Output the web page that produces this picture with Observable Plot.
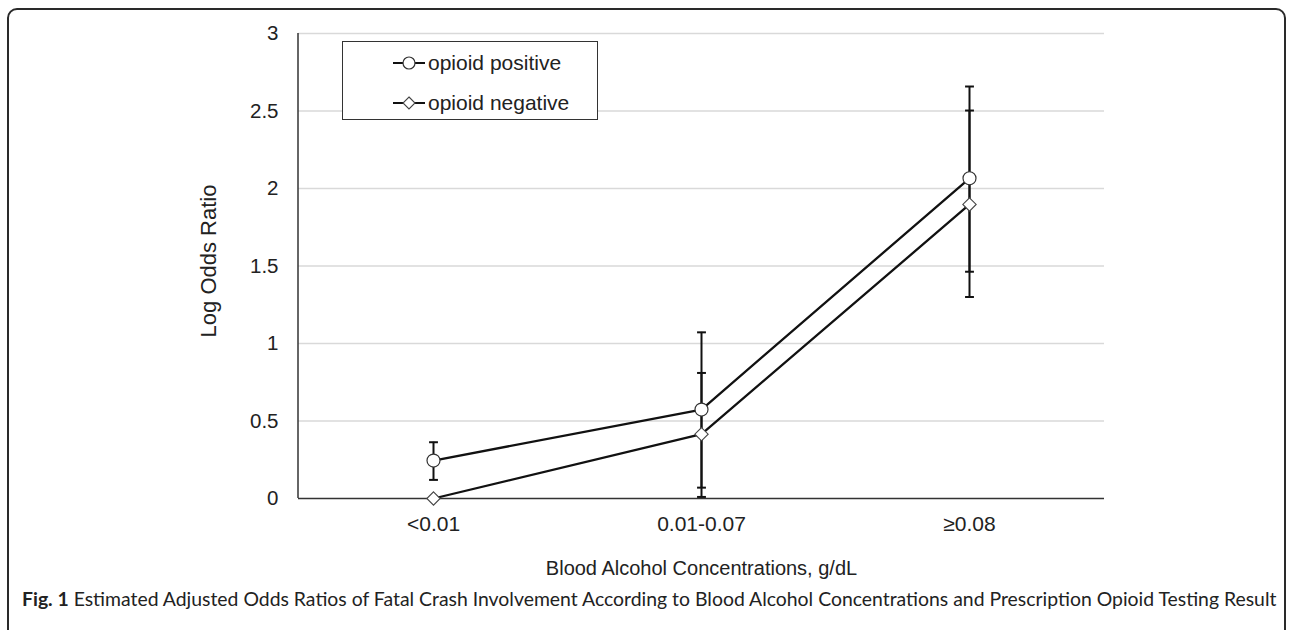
<!DOCTYPE html>
<html>
<head>
<meta charset="utf-8">
<script src="https://cdn.jsdelivr.net/npm/d3@7"></script>
<script src="https://cdn.jsdelivr.net/npm/@observablehq/plot@0.6"></script>
<style>
  html, body { margin: 0; padding: 0; background: #fff; width: 1290px; height: 630px; overflow: hidden; }
  #frame { position: absolute; left: 7px; top: 8px; width: 1279px; height: 640px; border: 2px solid #2a2a2a; border-radius: 10px; box-sizing: border-box; }
  #chart { position: absolute; left: 0; top: 0; }
  #legend { position: absolute; left: 342px; top: 41px; width: 256px; height: 79px; border: 1.5px solid #333; box-sizing: border-box; background: #fff; font-family: "Liberation Sans", Arial, sans-serif; font-size: 21px; color: #222; }
  #legend .row { position: absolute; left: 49px; display: flex; align-items: center; height: 24px; }
  #legend svg { margin-right: 1px; }
  #caption { position: absolute; left: 22px; top: 587px; font-family: Lato, "Open Sans", sans-serif; font-size: 19.4px; color: #222; white-space: nowrap; }
  #caption b { font-weight: 700; }
</style>
</head>
<body>
<div id="chart"></div>
<div id="legend"></div>
<div id="caption"></div>
<div id="frame"></div>
<script>
const categories = ["<0.01", "0.01-0.07", "≥0.08"];
const seriesNames = ["opioid positive", "opioid negative"];
const positive = [0.245, 0.574, 2.066];
const positiveLow = [0.12, 0.07, 1.463];
const positiveHigh = [0.363, 1.072, 2.658];
const negative = [0, 0.415, 1.897];
const negativeLow = [null, 0.01, 1.30];
const negativeHigh = [null, 0.81, 2.503];
const yTicks = [0, 0.5, 1, 1.5, 2, 2.5, 3];
const xTitle = "Blood Alcohol Concentrations, g/dL";
const yTitle = "Log Odds Ratio";
const captionBold = "Fig. 1";
const captionText = "Estimated Adjusted Odds Ratios of Fatal Crash Involvement According to Blood Alcohol Concentrations and Prescription Opioid Testing Result";

const rows = [];
categories.forEach((c, i) => {
  rows.push({cat: c, series: seriesNames[0], v: positive[i], lo: positiveLow[i], hi: positiveHigh[i]});
  rows.push({cat: c, series: seriesNames[1], v: negative[i], lo: negativeLow[i], hi: negativeHigh[i]});
});
const bars = rows.filter(d => d.lo != null);
const caps = bars.flatMap(d => [{cat: d.cat, y: d.lo}, {cat: d.cat, y: d.hi}]);
const pos = rows.filter(d => d.series === seriesNames[0]);
const neg = rows.filter(d => d.series === seriesNames[1]);

const capSymbol = {
  draw(ctx, size) {
    const w = Math.sqrt(size);
    ctx.moveTo(-w / 2, 0);
    ctx.lineTo(w / 2, 0);
  }
};

const chart = Plot.plot({
  width: 1290,
  height: 590,
  marginLeft: 298,
  marginRight: 186,
  marginTop: 33,
  marginBottom: 92,
  style: {fontFamily: "'Liberation Sans', Arial, sans-serif", fontSize: "21px", color: "#222", background: "transparent", overflow: "visible"},
  x: {type: "point", domain: categories, padding: 0.5},
  y: {domain: [0, 3]},
  marks: [
    Plot.gridY(yTicks.filter(t => t > 0), {stroke: "#d9d9d9", strokeOpacity: 1, strokeWidth: 1.3}),
    Plot.axisY(yTicks, {tickSize: 0, tickPadding: 20, tickFormat: d => String(d), label: null, fontSize: 20.5}),
    Plot.axisX({tickSize: 0, tickPadding: 18, label: null, fontSize: 21}),
    Plot.text([yTitle], {frameAnchor: "left", textAnchor: "middle", dx: -90, dy: -5, rotate: -90, fontSize: 22, fill: "#222"}),
    Plot.text([xTitle], {frameAnchor: "bottom", textAnchor: "middle", dy: 76, fontSize: 20, fill: "#222"}),
    Plot.ruleY([0], {stroke: "#333", strokeWidth: 1.5}),
    Plot.ruleX(bars, {x: "cat", y1: "lo", y2: "hi", stroke: "#111", strokeWidth: 2}),
    Plot.dot(caps, {x: "cat", y: "y", symbol: capSymbol, r: 5, stroke: "#111", strokeWidth: 2, fill: "none"}),
    Plot.line(pos, {x: "cat", y: "v", stroke: "#111", strokeWidth: 2.3}),
    Plot.line(neg, {x: "cat", y: "v", stroke: "#111", strokeWidth: 2.3}),
    Plot.dot(pos, {x: "cat", y: "v", symbol: "circle", r: 6.5, fill: "#fff", stroke: "#333", strokeWidth: 1.2}),
    Plot.dot(neg, {x: "cat", y: "v", symbol: "diamond2", r: 6, fill: "#fff", stroke: "#444", strokeWidth: 1.1})
  ]
});
document.getElementById("chart").appendChild(chart);
// left axis line along the frame
const svg = d3.select(chart);
svg.append("line").attr("x1", 298).attr("x2", 298).attr("y1", 33).attr("y2", 498).attr("stroke", "#333").attr("stroke-width", 1.5);

// legend
const legend = document.getElementById("legend");
const legendSymbols = ["circle", "diamond"];
seriesNames.forEach((name, i) => {
  const row = document.createElement("div");
  row.className = "row";
  row.style.top = (i === 0 ? 9 : 49) + "px";
  const sym = legendSymbols[i] === "circle"
    ? '<circle cx="17" cy="12" r="6" fill="#fff" stroke="#333" stroke-width="1.2"/>'
    : '<path d="M17,6 L23,12 L17,18 L11,12 Z" fill="#fff" stroke="#444" stroke-width="1.1"/>';
  row.innerHTML = '<svg width="35" height="24"><line x1="1" x2="33" y1="12" y2="12" stroke="#111" stroke-width="2"/>' + sym + '</svg><span>' + name + '</span>';
  legend.appendChild(row);
});

document.getElementById("caption").innerHTML = "<b>" + captionBold + "</b> " + captionText;
</script>
</body>
</html>
